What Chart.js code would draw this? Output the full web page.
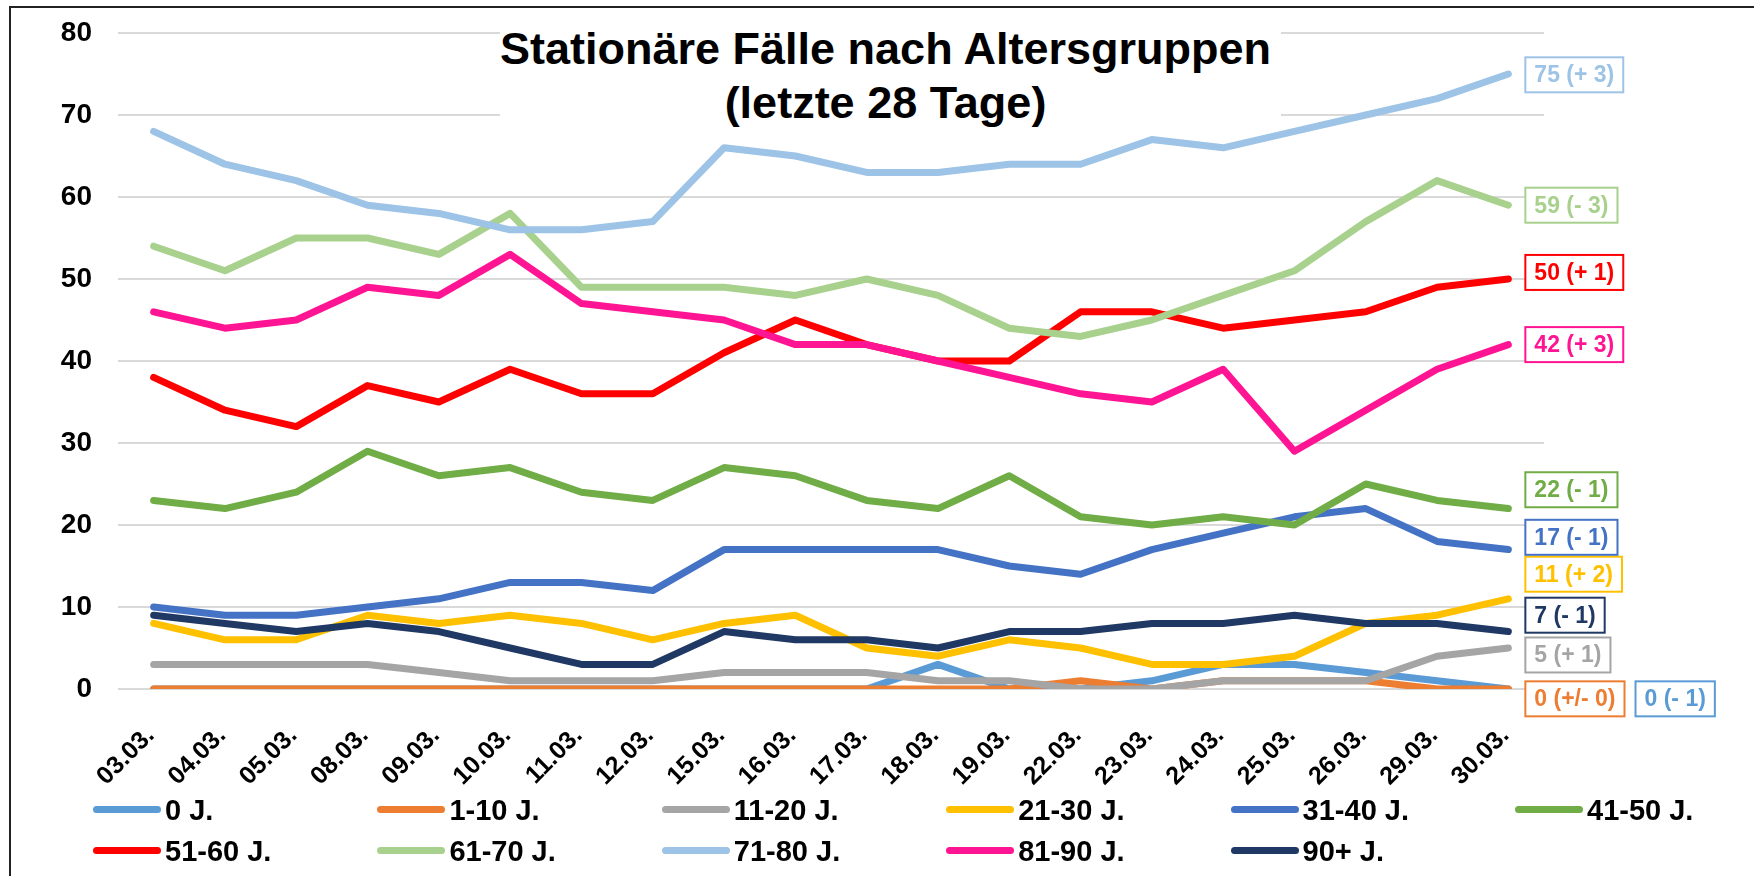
<!DOCTYPE html>
<html>
<head>
<meta charset="utf-8">
<script src="https://cdn.jsdelivr.net/npm/chart.js@4.4.1/dist/chart.umd.min.js"></script>
<style>
  html, body { margin: 0; padding: 0; background: #fff; overflow: hidden; }
  #wrap { position: relative; width: 1754px; height: 876px; overflow: hidden;
          font-family: "Liberation Sans", Arial, sans-serif; }
  #frame { position: absolute; left: 9px; top: 6px; width: 1800px; height: 900px;
           border: 2px solid #222; box-sizing: border-box; }
  canvas { position: absolute; left: 0; top: 0; }
  #title { position: absolute; left: 500px; top: 22px; width: 771px; padding-right: 10px;
           background: #fff; text-align: center; font-weight: bold; font-size: 45px;
           line-height: 54px; color: #000; }
  .leg { position: absolute; font-weight: bold; font-size: 29px; line-height: 32px;
         color: #000; white-space: nowrap; padding-left: 72px; }
  .leg i { position: absolute; left: 0; top: 12px; width: 68px; height: 7px; border-radius: 4px; }
</style>
</head>
<body>
<div id="wrap">
  <div id="frame"></div>
  <canvas id="chart" width="1754" height="876"></canvas>
  <div id="title">Stationäre Fälle nach Altersgruppen<br>(letzte 28 Tage)</div>
  <div id="legend"></div>
</div>
<script>
// Daten
const dates = ['03.03.', '04.03.', '05.03.', '08.03.', '09.03.', '10.03.', '11.03.', '12.03.', '15.03.', '16.03.',
               '17.03.', '18.03.', '19.03.', '22.03.', '23.03.', '24.03.', '25.03.', '26.03.', '29.03.', '30.03.'];

const groups = ['0 J.', '1-10 J.', '11-20 J.', '21-30 J.', '31-40 J.', '41-50 J.',
                '51-60 J.', '61-70 J.', '71-80 J.', '81-90 J.', '90+ J.'];

const age0    = [0, 0, 0, 0, 0, 0, 0, 0, 0, 0, 0, 3, 0, 0, 1, 3, 3, 2, 1, 0];
const age1_10 = [0, 0, 0, 0, 0, 0, 0, 0, 0, 0, 0, 0, 0, 1, 0, 1, 1, 1, 0, 0];
const age11_20 = [3, 3, 3, 3, 2, 1, 1, 1, 2, 2, 2, 1, 1, 0, 0, 1, 1, 1, 4, 5];
const age21_30 = [8, 6, 6, 9, 8, 9, 8, 6, 8, 9, 5, 4, 6, 5, 3, 3, 4, 8, 9, 11];
const age31_40 = [10, 9, 9, 10, 11, 13, 13, 12, 17, 17, 17, 17, 15, 14, 17, 19, 21, 22, 18, 17];
const age41_50 = [23, 22, 24, 29, 26, 27, 24, 23, 27, 26, 23, 22, 26, 21, 20, 21, 20, 25, 23, 22];
const age51_60 = [38, 34, 32, 37, 35, 39, 36, 36, 41, 45, 42, 40, 40, 46, 46, 44, 45, 46, 49, 50];
const age61_70 = [54, 51, 55, 55, 53, 58, 49, 49, 49, 48, 50, 48, 44, 43, 45, 48, 51, 57, 62, 59];
const age71_80 = [68, 64, 62, 59, 58, 56, 56, 57, 66, 65, 63, 63, 64, 64, 67, 66, 68, 70, 72, 75];
const age81_90 = [46, 44, 45, 49, 48, 53, 47, 46, 45, 42, 42, 40, 38, 36, 35, 39, 29, 34, 39, 42];
const age90    = [9, 8, 7, 8, 7, 5, 3, 3, 7, 6, 6, 5, 7, 7, 8, 8, 9, 8, 8, 7];

const yTicks = [0, 10, 20, 30, 40, 50, 60, 70, 80];

const series = [age0, age1_10, age11_20, age21_30, age31_40, age41_50,
                age51_60, age61_70, age71_80, age81_90, age90];
const colors = ['#5b9bd5', '#ed7d31', '#a5a5a5', '#ffc000', '#4472c4', '#70ad47',
                '#ff0000', '#a9d18e', '#9dc3e6', '#ff1493', '#203864'];

// Lage der Endbeschriftungen (in Achsenwerten), Spalte 1 = neben der Box davor
const labelAt  = [-1.2, -1.2, 4.15, 14.0, 18.5, 24.3, 50.8, 59.0, 74.9, 42.0, 9.0];
const labelCol = [1, 0, 0, 0, 0, 0, 0, 0, 0, 0, 0];

const FONT = '"Liberation Sans", Arial, sans-serif';

// Endwerte mit Veränderung zum Vortag
const endLabels = {
  id: 'endLabels',
  afterDatasetsDraw(chart) {
    const { ctx, scales: { x, y } } = chart;
    const last = dates.length - 1;
    const baseX = x.getPixelForValue(last) + 17;
    ctx.save();
    ctx.font = 'bold 23px ' + FONT;
    ctx.textBaseline = 'middle';
    ctx.lineWidth = 2;
    const boxes = [];
    chart.data.datasets.forEach((ds, i) => {
      const v = ds.data[last];
      const d = v - ds.data[last - 1];
      const txt = v + ' (' + (d > 0 ? '+ ' + d : d < 0 ? '- ' + (-d) : '+/- 0') + ')';
      boxes.push({ i, txt, w: ctx.measureText(txt).width + 18, cy: y.getPixelForValue(labelAt[i]) });
    });
    boxes.forEach(b => {
      let left = baseX;
      if (labelCol[b.i] === 1) {
        const prev = boxes.find(o => labelCol[o.i] === 0 && labelAt[o.i] === labelAt[b.i]);
        if (prev) left = baseX + prev.w + 11;
      }
      ctx.fillStyle = '#fff';
      ctx.fillRect(left, b.cy - 17.5, b.w, 35);
      ctx.strokeStyle = colors[b.i];
      ctx.strokeRect(left, b.cy - 17.5, b.w, 35);
      ctx.fillStyle = colors[b.i];
      ctx.fillText(b.txt, left + 9, b.cy + 1);
    });
    ctx.restore();
  }
};

const ctx = document.getElementById('chart').getContext('2d');
new Chart(ctx, {
  type: 'line',
  data: {
    labels: dates,
    datasets: series.map((s, i) => ({
      label: groups[i],
      data: s,
      borderColor: colors[i],
      backgroundColor: colors[i],
      order: -i
    }))
  },
  options: {
    responsive: false,
    animation: false,
    devicePixelRatio: 1,
    layout: { padding: { left: 20, right: 210, top: 33, bottom: 67 } },
    plugins: { legend: { display: false }, tooltip: { enabled: false } },
    elements: {
      point: { radius: 0 },
      line: { borderWidth: 7, tension: 0, borderCapStyle: 'round', borderJoinStyle: 'round' }
    },
    scales: {
      x: {
        offset: true,
        grid: { display: false },
        border: { display: false },
        ticks: {
          color: '#000', font: { family: FONT, size: 25, weight: 'bold' },
          maxRotation: 45, minRotation: 45, autoSkip: false, padding: 24, labelOffset: -3
        },
        afterFit: s => { s.height = 120; s.paddingLeft = 0; s.paddingRight = 0; }
      },
      y: {
        min: 0, max: 80,
        afterBuildTicks: s => { s.ticks = yTicks.map(v => ({ value: v })); },
        grid: { color: '#d9d9d9', lineWidth: 2, drawTicks: false },
        border: { display: false },
        ticks: { color: '#000', font: { family: FONT, size: 28, weight: 'bold' }, padding: 26 },
        afterFit: s => { s.width = 98; s.paddingTop = 10; s.paddingBottom = 10; }
      }
    }
  },
  plugins: [endLabels]
});

// Legende
const legend = document.getElementById('legend');
groups.forEach((g, i) => {
  const el = document.createElement('div');
  el.className = 'leg';
  el.style.left = (93 + 284.4 * (i % 6)) + 'px';
  el.style.top = (i < 6 ? 794 : 835) + 'px';
  el.innerHTML = `<i style="background:${colors[i]}"></i>${g}`;
  legend.appendChild(el);
});
</script>
</body>
</html>
